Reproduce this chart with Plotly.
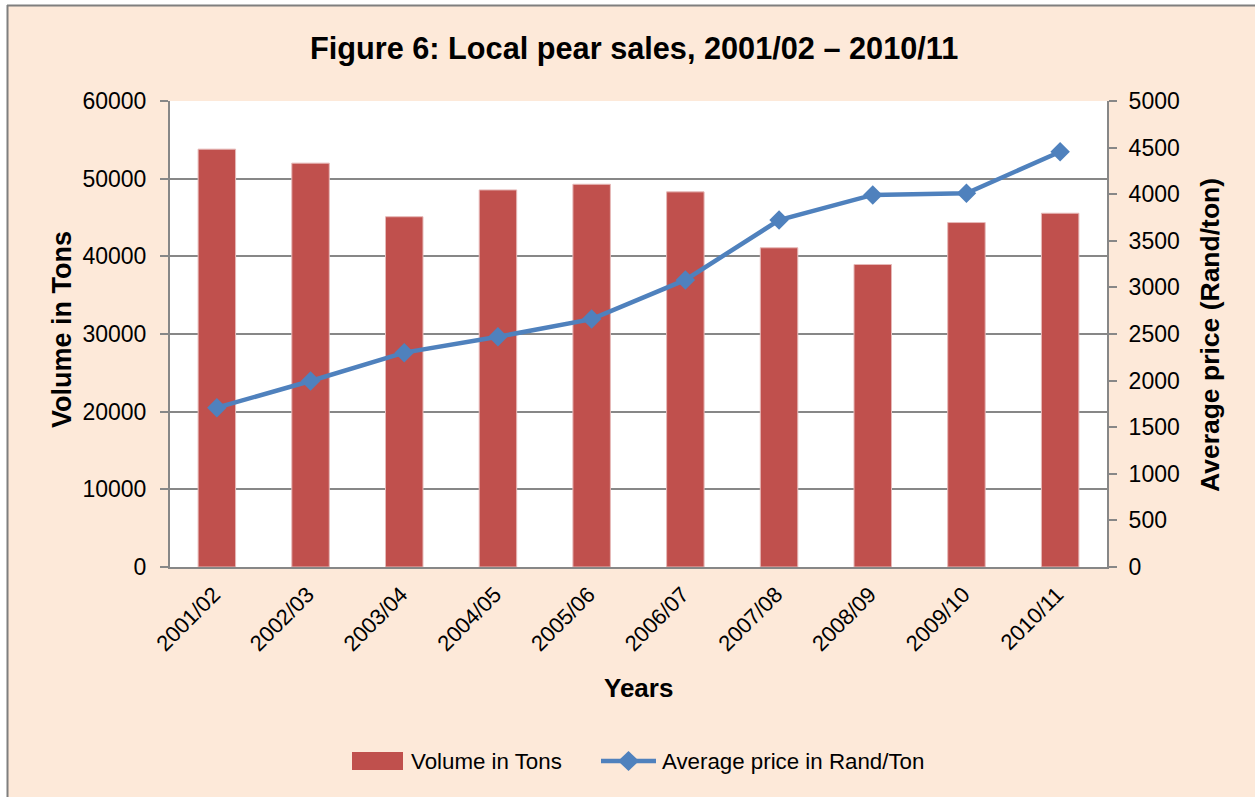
import plotly.graph_objects as go

years = ["2001/02", "2002/03", "2003/04", "2004/05", "2005/06",
         "2006/07", "2007/08", "2008/09", "2009/10", "2010/11"]
volume_tons = [53800, 52000, 45100, 48550, 49280, 48300, 41100, 38950, 44350, 45550]
avg_price = [1710, 1996, 2300, 2470, 2660, 3080, 3722, 3992, 4010, 4456]

W, H = 1255, 797
L, R, T, B = 170, 148, 101, 230
PW, PH = W - L - R, H - T - B


def px(x):
    return (x - L) / PW


def py(y):
    return (H - B - y) / PH


PEACH = "#FDE9D9"
GRID = "#878787"
RED = "#C0504D"
BLUE = "#4F81BD"
FONT = "Liberation Sans, Arial, sans-serif"

fig = go.Figure()
fig.add_trace(go.Bar(
    x=years, y=volume_tons, name="Volume in Tons",
    marker=dict(color=RED, line=dict(color="#E6B9B8", width=1)),
    width=0.4,
))
fig.add_trace(go.Scatter(
    x=years, y=avg_price, name="Average price in Rand/Ton", yaxis="y2",
    mode="lines+markers",
    line=dict(color=BLUE, width=4.5),
    marker=dict(symbol="diamond", size=15, color=BLUE),
))

# legend drawn by hand so the swatches look like the original
ly = 761
legend_shapes = [
    dict(type="rect", xref="paper", yref="paper", x0=px(352), x1=px(403), y0=py(770), y1=py(752),
         fillcolor=RED, line=dict(width=0)),
    dict(type="line", xref="paper", yref="paper", x0=px(601), x1=px(656), y0=py(ly), y1=py(ly),
         line=dict(color=BLUE, width=4.5)),
    dict(type="path", xref="paper", yref="paper",
         path=f"M {px(618)} {py(ly)} L {px(628.5)} {py(ly - 10)} L {px(639)} {py(ly)} L {px(628.5)} {py(ly + 10)} Z",
         fillcolor=BLUE, line=dict(width=0)),
]

fig.update_layout(
    width=W, height=H,
    margin=dict(l=L, r=R, t=T, b=B, autoexpand=False),
    paper_bgcolor=PEACH, plot_bgcolor="white",
    font=dict(family=FONT, size=23, color="black"),
    showlegend=False,
    bargap=0.6,
    xaxis=dict(
        type="category", range=[-0.5, len(years) - 0.5], tickangle=-45,
        showline=True, linecolor=GRID, linewidth=2,
        ticks="", showgrid=False, tickfont=dict(size=22), automargin=False,
        ticklabelshift=-3, ticklabelstandoff=4,
    ),
    yaxis=dict(
        range=[0, 60000], dtick=10000, tickformat="d", showgrid=True, gridcolor=GRID, gridwidth=1.5,
        showline=True, linecolor=GRID, linewidth=2, ticks="outside", ticklen=8,
        tickcolor=GRID, tickwidth=1.5, ticklabelstandoff=9, zeroline=False, automargin=False,
    ),
    yaxis2=dict(
        range=[0, 5000], dtick=500, tickformat="d", overlaying="y", side="right", showgrid=False,
        showline=True, linecolor=GRID, linewidth=2, ticks="outside", ticklen=8,
        tickcolor=GRID, tickwidth=1.5, ticklabelstandoff=7, zeroline=False, automargin=False,
    ),
    shapes=[
        dict(type="rect", xref="paper", yref="paper", x0=px(-5), x1=px(7), y0=py(H + 5), y1=py(-5),
             fillcolor="white", line=dict(width=0), layer="below"),
        dict(type="rect", xref="paper", yref="paper", x0=px(-5), x1=px(W + 5), y0=py(5), y1=py(-5),
             fillcolor="white", line=dict(width=0), layer="below"),
        dict(type="line", xref="paper", yref="paper", x0=px(7.5), x1=px(7.5), y0=py(5), y1=py(H + 5),
             line=dict(color="#7F7F7F", width=2)),
        dict(type="line", xref="paper", yref="paper", x0=px(7), x1=px(W + 5), y0=py(5.5), y1=py(5.5),
             line=dict(color="#7F7F7F", width=2)),
    ] + legend_shapes,
    annotations=[
        dict(text="<b>Figure 6: Local pear sales, 2001/02 – 2010/11</b>", xref="paper", yref="paper",
             x=px(634), y=py(48), showarrow=False, font=dict(size=30.7), xanchor="center", yanchor="middle"),
        dict(text="<b>Volume in Tons</b>", xref="paper", yref="paper", x=px(62), y=py(330),
             textangle=-90, showarrow=False, font=dict(size=27), xanchor="center", yanchor="middle"),
        dict(text="<b>Average price (Rand/ton)</b>", xref="paper", yref="paper", x=px(1210), y=py(335),
             textangle=-90, showarrow=False, font=dict(size=26.5), xanchor="center", yanchor="middle"),
        dict(text="<b>Years</b>", xref="paper", yref="paper", x=px(638), y=py(688),
             showarrow=False, font=dict(size=26), xanchor="center", yanchor="middle"),
        dict(text="Volume in Tons", xref="paper", yref="paper", x=px(409), y=py(ly),
             showarrow=False, font=dict(size=22.3), xanchor="left", yanchor="middle"),
        dict(text="Average price in Rand/Ton", xref="paper", yref="paper", x=px(660), y=py(ly),
             showarrow=False, font=dict(size=22.3), xanchor="left", yanchor="middle"),
    ],
)

fig.write_html("out.html", config={"displayModeBar": False},
               post_script="document.body.style.margin='0';")
